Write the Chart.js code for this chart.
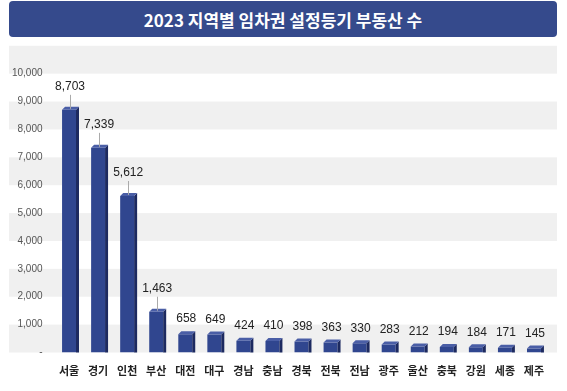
<!DOCTYPE html>
<html>
<head>
<meta charset="utf-8">
<script src="https://cdn.jsdelivr.net/npm/chart.js@4.4.0/dist/chart.umd.min.js"></script>
<style>
  html, body { margin: 0; padding: 0; background: #fff; }
  #wrap { position: relative; width: 567px; height: 391px; }
  #banner {
    position: absolute; left: 9px; top: 1px; width: 548px; height: 36px;
    background: #354a8c; border-radius: 4px;
    display: flex; align-items: center; justify-content: center;
  }
  #banner span {
    color: #fff; font: bold 17px "Noto Sans CJK KR", sans-serif;
    white-space: nowrap;
  }
  canvas { position: absolute; left: 0; top: 0; }
</style>
</head>
<body>
<div id="wrap">
  <canvas id="chart" width="567" height="391"></canvas>
  <div id="banner"><span>2023 지역별 임차권 설정등기 부동산 수</span></div>
</div>
<script>
const regions = ["서울", "경기", "인천", "부산", "대전", "대구", "경남", "충남", "경북", "전북", "전남", "광주", "울산", "충북", "강원", "세종", "제주"];
const counts = [8703, 7339, 5612, 1463, 658, 649, 424, 410, 398, 363, 330, 283, 212, 194, 184, 171, 145];
const yTicks = [0, 1000, 2000, 3000, 4000, 5000, 6000, 7000, 8000, 9000, 10000];
const yMax = 11100;
const yStep = 1000;

// grey stripes every other 1,000 band, full width behind labels
const bandPlugin = {
  id: "bands",
  beforeDraw(chart) {
    const { ctx, scales: { y } } = chart;
    ctx.save();
    ctx.fillStyle = "#f0f0f0";
    for (let v = 0; v < yMax; v += yStep * 2) {
      const top = y.getPixelForValue(Math.min(v + yStep, yMax));
      const bot = y.getPixelForValue(v);
      ctx.fillRect(9, top, 548, bot - top);
    }
    ctx.restore();
  }
};

// fake 3D faces + value labels
const barPlugin = {
  id: "bar3d",
  afterDatasetsDraw(chart) {
    const { ctx } = chart;
    const meta = chart.getDatasetMeta(0);
    const d = 3;
    ctx.save();
    meta.data.forEach((bar, i) => {
      const x0 = bar.x - bar.width / 2, x1 = bar.x + bar.width / 2;
      const top = bar.y, base = bar.base;
      // side
      ctx.fillStyle = "#1d2a60";
      ctx.beginPath();
      ctx.moveTo(x1, top); ctx.lineTo(x1 + d, top - d);
      ctx.lineTo(x1 + d, base); ctx.lineTo(x1, base);
      ctx.closePath(); ctx.fill();
      // top
      ctx.fillStyle = "#4a5ea6";
      ctx.beginPath();
      ctx.moveTo(x0, top); ctx.lineTo(x1, top);
      ctx.lineTo(x1 + d, top - d); ctx.lineTo(x0 + d, top - d);
      ctx.closePath(); ctx.fill();

      const v = counts[i];
      const big = v > 1000;
      const ly = top - (big ? 23 : 15);
      if (big) {
        ctx.strokeStyle = "#aaaaaa";
        ctx.lineWidth = 1;
        ctx.beginPath();
        ctx.moveTo(Math.round(bar.x + 1) + 0.5, ly + 8);
        ctx.lineTo(Math.round(bar.x + 1) + 0.5, top - 1);
        ctx.stroke();
      }
      ctx.fillStyle = "#222";
      ctx.font = "12px 'Liberation Sans', Arial, sans-serif";
      ctx.textAlign = "center";
      ctx.textBaseline = "middle";
      ctx.fillText(v.toLocaleString("en-US"), bar.x + 1, ly);
    });
    ctx.restore();
  }
};

new Chart(document.getElementById("chart").getContext("2d"), {
  type: "bar",
  data: {
    labels: regions,
    datasets: [{
      data: counts,
      backgroundColor: "#30468f",
      barPercentage: 0.48,
      categoryPercentage: 1
    }]
  },
  options: {
    responsive: false,
    animation: false,
    layout: { padding: { top: 43, right: 18.5, bottom: 0, left: 0 } },
    plugins: { legend: { display: false }, tooltip: { enabled: false } },
    scales: {
      x: {
        afterFit(scale) { scale.height = 38.5; },
        grid: { display: false, drawTicks: false },
        border: { display: false },
        ticks: {
          padding: 12,
          color: "#222",
          font: { size: 11, weight: "bold", family: "'Noto Sans CJK KR', sans-serif" }
        }
      },
      y: {
        min: 0,
        max: yMax,
        afterFit(scale) { scale.width = 54.5; },
        afterBuildTicks(scale) { scale.ticks = yTicks.map(v => ({ value: v })); },
        grid: { display: false, drawTicks: false },
        border: { display: false },
        ticks: {
          padding: 12,
          color: "#555",
          font: { size: 10, family: "'Liberation Sans', Arial, sans-serif" },
          callback: v => v === 0 ? "-" : v.toLocaleString("en-US")
        }
      }
    }
  },
  plugins: [bandPlugin, barPlugin]
});
</script>
</body>
</html>
